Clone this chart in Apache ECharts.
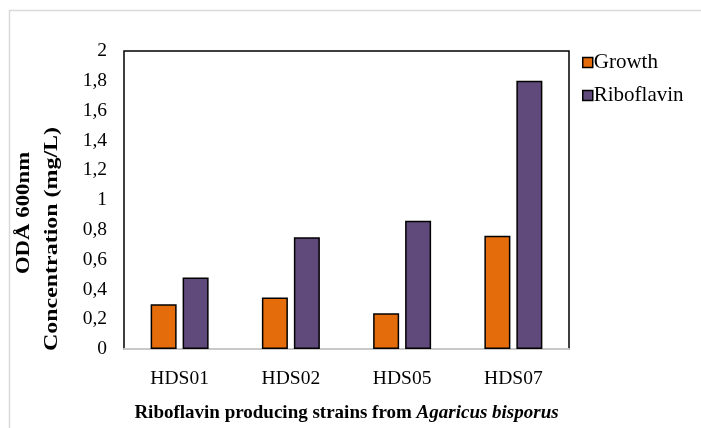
<!DOCTYPE html>
<html>
<head>
<meta charset="utf-8">
<script src="https://cdn.jsdelivr.net/npm/echarts@6/dist/echarts.min.js"></script>
<style>
  html, body { margin: 0; padding: 0; background: #fff; }
  #chart { width: 701px; height: 428px; }
</style>
</head>
<body>
<div id="chart"></div>
<script>
// Strains and measured values
const strains = ['HDS01', 'HDS02', 'HDS05', 'HDS07'];
const growth = [0.30, 0.345, 0.24, 0.76];
const riboflavin = [0.48, 0.75, 0.86, 1.80];
const seriesNames = ['Growth', 'Riboflavin'];
const yTitleLines = ['ODÅ 600nm', 'Concentration (mg/L)'];

const FONT = '"Liberation Serif", "Times New Roman", serif';
const ORANGE = '#E46C0A';
const PURPLE = '#604A7B';

const chart = echarts.init(document.getElementById('chart'), null, { renderer: 'canvas' });

chart.setOption({
  backgroundColor: '#fff',
  animation: false,
  grid: {
    left: 124, right: 132, top: 51, bottom: 77,
    show: true, borderColor: '#000', borderWidth: 1.5, backgroundColor: 'transparent'
  },
  legend: {
    orient: 'vertical',
    left: 577, top: 47,
    icon: 'rect',
    itemWidth: 10, itemHeight: 10,
    itemGap: 12,
    data: seriesNames,
    itemStyle: { borderColor: '#000', borderWidth: 1.5 },
    textStyle: { fontFamily: FONT, fontSize: 21, color: '#000', lineHeight: 21, padding: [0, 0, 0, -4] }
  },
  xAxis: {
    type: 'category',
    data: strains,
    axisTick: { show: false },
    axisLine: { show: true, lineStyle: { color: '#c8c8c8', width: 2 } },
    axisLabel: { fontFamily: FONT, fontSize: 19.5, color: '#000', margin: 20 },
    name: '{b|Riboflavin producing strains from }{i|Agaricus bisporus}',
    nameLocation: 'middle',
    nameGap: 55,
    nameTextStyle: {
      rich: {
        b: { fontFamily: FONT, fontSize: 19, fontWeight: 'bold', color: '#000' },
        i: { fontFamily: FONT, fontSize: 19, fontWeight: 'bold', fontStyle: 'italic', color: '#000' }
      }
    }
  },
  yAxis: {
    type: 'value',
    min: 0, max: 2, interval: 0.2,
    splitLine: { show: false },
    axisLine: { show: false },
    axisTick: { show: false },
    axisLabel: {
      fontFamily: FONT, fontSize: 19.5, color: '#000', margin: 17,
      formatter: v => String(Math.round(v * 10) / 10).replace('.', ',')
    }
  },
  graphic: [
    {
      type: 'polyline', silent: true,
      shape: { points: [[9.5, 428], [9.5, 10.5], [701, 10.5]] },
      style: { stroke: '#d9d9d9', lineWidth: 1.5, fill: null }
    },
    // Two-line vertical axis title, drawn rotated and slightly elongated
    {
      type: 'text', x: 24, y: 213, rotation: Math.PI / 2, scaleX: 1.2,
      style: { text: yTitleLines[0], font: 'bold 19px ' + FONT, fill: '#000', align: 'center', verticalAlign: 'middle' }
    },
    {
      type: 'text', x: 52, y: 239, rotation: Math.PI / 2, scaleX: 1.26,
      style: { text: yTitleLines[1], font: 'bold 19px ' + FONT, fill: '#000', align: 'center', verticalAlign: 'middle' }
    }
  ],
  series: [
    {
      name: seriesNames[0], type: 'bar', data: growth,
      barWidth: 26, barGap: '23%',
      itemStyle: { color: ORANGE, borderColor: '#000', borderWidth: 1.5 }
    },
    {
      name: seriesNames[1], type: 'bar', data: riboflavin,
      barWidth: 26, barGap: '23%',
      itemStyle: { color: PURPLE, borderColor: '#000', borderWidth: 1.5 }
    }
  ]
});
</script>
</body>
</html>
